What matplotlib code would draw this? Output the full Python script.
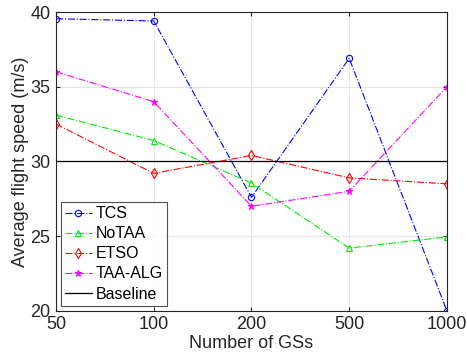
import matplotlib
matplotlib.use("Agg")
import matplotlib.pyplot as plt

categories = ["50", "100", "200", "500", "1000"]
tcs = [39.55, 39.4, 27.6, 36.9, 20.0]
notaa = [33.1, 31.4, 28.55, 24.2, 24.95]
etso = [32.5, 29.2, 30.4, 28.9, 28.5]
taa_alg = [36.0, 34.0, 27.0, 28.0, 35.0]
baseline = 30.0

plt.rcParams['font.family'] = ['Liberation Sans', 'DejaVu Sans']

fig = plt.figure(figsize=(4.67, 3.64), dpi=100)
ax = fig.add_axes([0.12, 0.146, 0.837, 0.821])
x = list(range(len(categories)))

ax.plot(x, tcs, color='blue', ls='-.', lw=0.8, marker='o', ms=4.5, mfc='none', mew=0.8, label='TCS')
ax.plot(x, notaa, color='#00ee00', ls='-.', lw=0.8, marker='^', ms=5, mfc='none', mew=0.8, label='NoTAA')
ax.plot(x, etso, color='red', ls='-.', lw=0.8, marker='d', ms=5, mfc='none', mew=0.8, label='ETSO')
ax.plot(x, taa_alg, color='magenta', ls='-.', lw=0.8, marker='*', ms=4.5, mew=0.8, label='TAA-ALG')
ax.axhline(baseline, color='black', lw=0.9, label='Baseline')

ax.set_xlim(0, len(categories) - 1)
ax.set_ylim(20, 40)
ax.set_xticks(x)
ax.set_xticklabels(categories)
ax.set_yticks([20, 25, 30, 35, 40])
ax.grid(True, color='#e6e6e6', lw=0.8)
ax.set_axisbelow(True)
ax.tick_params(direction='in', length=3, labelsize=13, pad=4, colors='#262626', top=True, right=True, labeltop=False, labelright=False)
for s in ax.spines.values():
    s.set_color('#262626')
    s.set_linewidth(0.8)
ax.set_xlabel('Number of GSs', fontsize=13, color='#262626', labelpad=1)
ax.set_ylabel('Average flight speed (m/s)', fontsize=13, color='#262626', labelpad=1)

leg = ax.legend(loc='lower left', fontsize=11.5, frameon=True, fancybox=False, edgecolor='#262626',
                handlelength=1.65, handletextpad=0.25, borderpad=0.25, labelspacing=0.32,
                borderaxespad=0.33)
leg.get_frame().set_linewidth(0.8)

fig.savefig('out.png', dpi=100)
